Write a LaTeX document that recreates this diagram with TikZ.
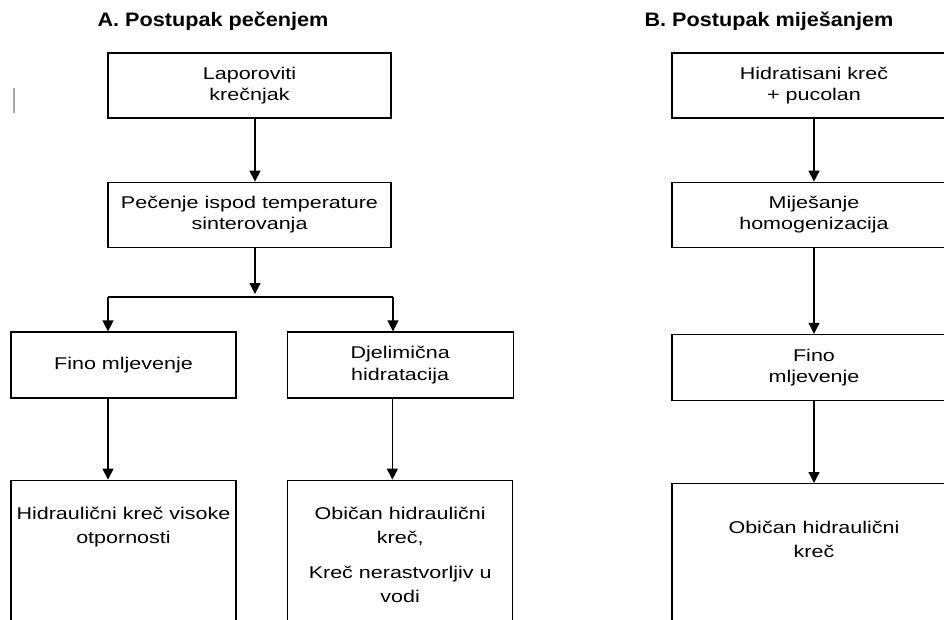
\documentclass[tikz,border=0pt]{standalone}
\usepackage{fontspec}
\setmainfont{Liberation Sans}[FakeStretch=1.265]
\newfontfamily\titlefont{Liberation Sans}[FakeStretch=1.11]
\usetikzlibrary{positioning,arrows.meta}
\begin{document}
\begin{tikzpicture}[x=1pt, y=-1pt, line width=1.2pt,
    heading/.style={anchor=base, font={\titlefont\bfseries\fontsize{19.5pt}{23pt}\selectfont}},
    stepbox/.style={draw, rectangle, align=center, inner sep=0pt, minimum height=65pt, font={\fontsize{17pt}{21.5pt}\selectfont}},
    endbox/.style={draw, rectangle, inner sep=0pt, anchor=north, font={\fontsize{17pt}{24pt}\selectfont}},
    flow/.style={-{Triangle[width=11pt, length=11pt]}}]
      \useasboundingbox (0,0) rectangle (944,620);
      \clip (0,0) rectangle (944,620);
      \fill[white] (0,0) rectangle (944,620);

      \node[heading] (titleA) at (213,27) {A. Postupak pečenjem};
      \node[heading] (titleB) at (769,27) {B. Postupak miješanjem};
      \draw[gray!70, line width=1.3pt] (14,88) -- (14,113);

      % A: postupak pecenjem
      \node[stepbox, minimum width=283pt] (a1) at (249.5,85.5) {Laporoviti\\krečnjak};
      \node[stepbox, minimum width=283pt] (a2) [below=63pt of a1] {Pečenje ispod temperature\\sinterovanja};
      \node[stepbox, minimum width=225pt, minimum height=66pt] (a3) at (123.5,365) {Fino mljevenje};
      \node[stepbox, minimum width=226pt, minimum height=66pt] (a4) [right=50pt of a3] {Djelimična\\hidratacija};
      \node[endbox] (a5) [below=81pt of a3] {\parbox[t][200pt][t]{225pt}{\centering\rule{0pt}{39pt}Hidraulični kreč visoke\\otpornosti}};
      \node[endbox] (a6) [below=81pt of a4] {\parbox[t][200pt][t]{225pt}{\centering\rule{0pt}{39pt}Običan hidraulični\\kreč,\\[11pt]Kreč nerastvorljiv u\\vodi}};

      \coordinate (split) at (255,297);
      \coordinate (splitL) at (108,297);
      \coordinate (splitR) at (393,297);
      \draw[flow] ([xshift=5.5pt]a1.south) -- ([xshift=5.5pt]a2.north);
      \draw[flow] ([xshift=5.5pt]a2.south) -- ([yshift=3pt]split);
      \draw (splitL) -- (splitR);
      \draw[flow] (splitL) -- (splitL |- a3.north);
      \draw[flow] (splitR) -- (splitR |- a4.north);
      \draw[flow] (a3.south -| splitL) -- (a5.north -| splitL);
      \draw[flow] ([xshift=-7.8pt]a4.south) -- ([xshift=-7.8pt]a6.north);

      % B: postupak mijesanjem
      \node[stepbox, minimum width=284pt] (b1) at (814,85.5) {Hidratisani kreč\\+ pucolan};
      \node[stepbox, minimum width=284pt] (b2) [below=63pt of b1] {Miješanje\\homogenizacija};
      \node[stepbox, minimum width=284pt, minimum height=66pt] (b3) [below=86pt of b2] {Fino\\mljevenje};
      \node[endbox] (b4) [below=82pt of b3] {\parbox[t][200pt][t]{284pt}{\centering\rule{0pt}{50pt}Običan hidraulični\\kreč}};

      \draw[flow] (b1) -- (b2);
      \draw[flow] (b2) -- (b3);
      \draw[flow] (b3) -- (b4);
    \end{tikzpicture}
\end{document}
